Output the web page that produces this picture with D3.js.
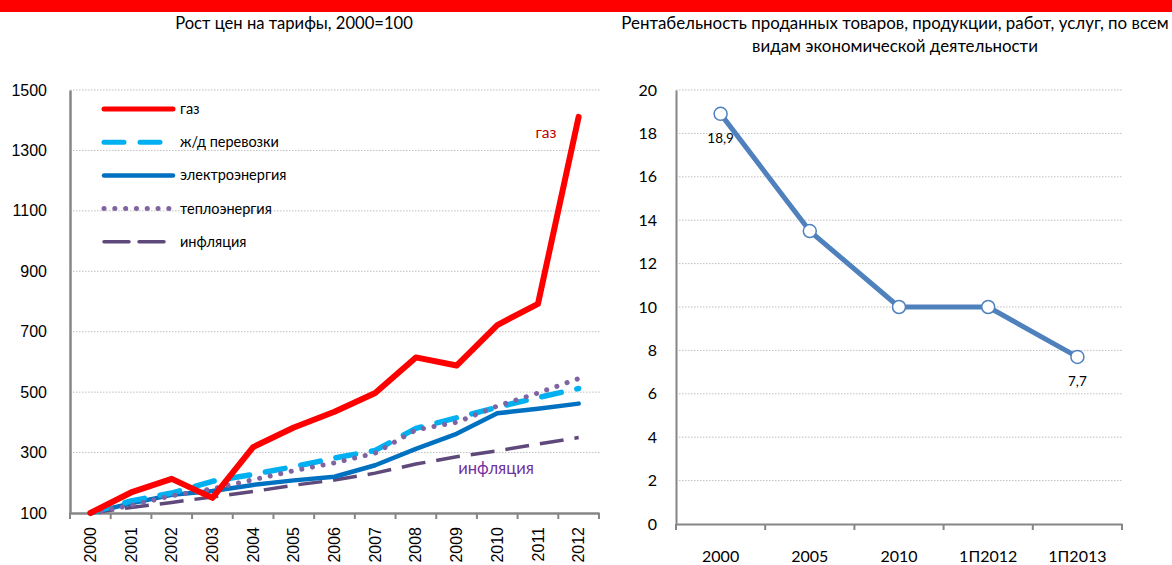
<!DOCTYPE html>
<html><head><meta charset="utf-8">
<script src="https://cdn.jsdelivr.net/npm/d3@7"></script>
<style>
html,body{margin:0;padding:0;background:#fff;}
svg{display:block;}
</style></head>
<body>
<svg id="c" width="1172" height="565"></svg>
<script>
// ---- Data: left chart ----
const years = ["2000","2001","2002","2003","2004","2005","2006","2007","2008","2009","2010","2011","2012"];
const gas      = [100,168,213,150,318,383,435,497,615,588,722,792,1411];
const rail     = [100,140,166,205,228,253,282,307,380,415,450,482,512];
const power    = [100,132,160,173,193,208,220,258,312,362,430,445,462];
const heat     = [100,125,157,180,210,240,266,298,375,400,454,497,545];
const inflation= [100,118,135,153,171,192,209,232,262,286,306,328,350];
const leftTicks = [100,300,500,700,900,1100,1300,1500];
const seriesNames = ["газ","ж/д перевозки","электроэнергия","теплоэнергия","инфляция"];

// ---- Data: right chart ----
const periods = ["2000","2005","2010","1П2012","1П2013"];
const profit  = [18.9,13.5,10.0,10.0,7.7];
const profitLabels = ["18,9","","","","7,7"];
const rightTicks = [0,2,4,6,8,10,12,14,16,18,20];

const svg = d3.select("#c");
const sans = "Lato, 'Noto Sans', sans-serif";
const arial = "'Liberation Sans', Arial, sans-serif";

// red top bar
svg.append("rect").attr("x",0).attr("y",0).attr("width",1172).attr("height",12).attr("fill","#ff0000");

// ================= LEFT CHART =================
const xL = d3.scaleBand().domain(years).range([70,599]).paddingInner(0).paddingOuter(0);
const yL = d3.scaleLinear().domain([100,1500]).range([513,90]);

svg.append("text").attr("x",294).attr("y",29).attr("text-anchor","middle")
  .attr("font-family",sans).attr("font-size",16.6).attr("fill","#000")
  .text("Рост цен на тарифы, 2000=100");

// grid
svg.append("g").selectAll("line").data(leftTicks.filter(d=>d>100)).join("line")
  .attr("x1",70).attr("x2",600).attr("y1",d=>yL(d)).attr("y2",d=>yL(d))
  .attr("stroke","#bfbfbf").attr("stroke-width",1).attr("stroke-dasharray","1.5,1.5");

// y axis
const gyL = svg.append("g").attr("transform","translate(70,0)")
  .call(d3.axisLeft(yL).tickValues(leftTicks).tickFormat(d=>String(d)).tickSize(0).tickPadding(23));
gyL.select(".domain").attr("stroke","#868686").attr("stroke-width",2.5);
gyL.selectAll("text").attr("font-family",arial).attr("font-size",16).attr("fill","#000");

// x axis
const gxL = svg.append("g").attr("transform","translate(0,513)")
  .call(d3.axisBottom(xL).tickSize(0).tickFormat(d=>d));
gxL.select(".domain").attr("stroke","#868686").attr("stroke-width",2.5);
gxL.selectAll(".tick text")
  .attr("font-family",arial).attr("font-size",16).attr("fill","#000")
  .attr("transform","rotate(-90)").attr("text-anchor","end")
  .attr("x",-14).attr("y",0).attr("dy","0.35em");
// tick marks at band boundaries
const edgesL = years.map(d=>xL(d)).concat([xL(years[years.length-1])+xL.bandwidth()]);
svg.append("g").selectAll("line").data(edgesL).join("line")
  .attr("x1",d=>d).attr("x2",d=>d).attr("y1",513).attr("y2",519)
  .attr("stroke","#868686").attr("stroke-width",2);

const cx = d=>xL(d)+xL.bandwidth()/2;
const lineL = d3.line().x((d,i)=>cx(years[i])).y(d=>yL(d));

const styles = [
  {data:inflation, color:"#5f497a", w:3.5, dash:"24,11", cap:"butt"},
  {data:power, color:"#0070c0", w:4.5, dash:null, cap:"round"},
  {data:rail, color:"#00b0f0", w:5.5, dash:"20,16", cap:"round"},
  {data:heat, color:"#8064a2", w:5, dash:"0.1,10.7", cap:"round"},
  {data:gas, color:"#ff0000", w:6, dash:null, cap:"round"}
];
styles.forEach(s=>{
  svg.append("path").datum(s.data).attr("d",lineL)
    .attr("fill","none").attr("stroke",s.color).attr("stroke-width",s.w)
    .attr("stroke-linecap",s.cap).attr("stroke-linejoin","round")
    .attr("stroke-dasharray",s.dash);
});

// legend
const legendStyle = {
  "газ":{color:"#ff0000", w:5, dash:null, cap:"round"},
  "ж/д перевозки":{color:"#00b0f0", w:5, dash:"20,16", cap:"round"},
  "электроэнергия":{color:"#0070c0", w:4.5, dash:null, cap:"round"},
  "теплоэнергия":{color:"#8064a2", w:5, dash:"0.1,10.7", cap:"round"},
  "инфляция":{color:"#5f497a", w:3.5, dash:"25,10", cap:"round"}
};
const lg = svg.append("g");
seriesNames.forEach((n,i)=>{
  const y = 109 + i*33.2;
  const s = legendStyle[n];
  lg.append("line").attr("x1",104).attr("x2",173).attr("y1",y).attr("y2",y)
    .attr("stroke",s.color).attr("stroke-width",s.w).attr("stroke-dasharray",s.dash)
    .attr("stroke-linecap",s.cap);
  lg.append("text").attr("x",180).attr("y",y).attr("dy","0.35em")
    .attr("font-family",sans).attr("font-size",14.5).attr("fill","#000").text(n);
});

// inline labels
svg.append("text").attr("x",546).attr("y",133).attr("dy","0.35em").attr("text-anchor","middle")
  .attr("font-family",sans).attr("font-size",15.5).attr("fill","#c00000").text("газ");
svg.append("text").attr("x",496).attr("y",468).attr("dy","0.35em").attr("text-anchor","middle")
  .attr("font-family",sans).attr("font-size",16.5).attr("fill","#7030a0").text("инфляция");

// ================= RIGHT CHART =================
const xR = d3.scaleBand().domain(periods).range([676,1122]).paddingInner(0).paddingOuter(0);
const yR = d3.scaleLinear().domain([0,20]).range([524,90]);

const tt = svg.append("text").attr("text-anchor","middle")
  .attr("font-family",sans).attr("font-size",16.9).attr("fill","#000");
tt.append("tspan").attr("x",895).attr("y",29).text("Рентабельность проданных товаров, продукции, работ, услуг, по всем");
tt.append("tspan").attr("x",895).attr("y",52).text("видам экономической деятельности");

svg.append("g").selectAll("line").data(rightTicks.filter(d=>d>0)).join("line")
  .attr("x1",676).attr("x2",1122).attr("y1",d=>yR(d)).attr("y2",d=>yR(d))
  .attr("stroke","#bfbfbf").attr("stroke-width",1).attr("stroke-dasharray","1.5,1.5");

const gyR = svg.append("g").attr("transform","translate(676,0)")
  .call(d3.axisLeft(yR).tickValues(rightTicks).tickSize(0).tickPadding(19));
gyR.select(".domain").attr("stroke","#868686").attr("stroke-width",2);
gyR.selectAll("text").attr("font-family",sans).attr("font-size",16).attr("fill","#000");

const gxR = svg.append("g").attr("transform","translate(0,524)")
  .call(d3.axisBottom(xR).tickSize(0).tickPadding(27));
gxR.select(".domain").attr("stroke","#868686").attr("stroke-width",2);
gxR.selectAll("text").attr("font-family",sans).attr("font-size",16).attr("fill","#000");
const edgesR = periods.map(d=>xR(d)).concat([xR(periods[periods.length-1])+xR.bandwidth()]);
svg.append("g").selectAll("line").data(edgesR).join("line")
  .attr("x1",d=>d).attr("x2",d=>d).attr("y1",524).attr("y2",530)
  .attr("stroke","#868686").attr("stroke-width",2);

const cxR = d=>xR(d)+xR.bandwidth()/2;
const lineR = d3.line().x((d,i)=>cxR(periods[i])).y(d=>yR(d));
svg.append("path").datum(profit).attr("d",lineR)
  .attr("fill","none").attr("stroke","#4f81bd").attr("stroke-width",5)
  .attr("stroke-linejoin","round");
svg.append("g").selectAll("circle").data(profit).join("circle")
  .attr("cx",(d,i)=>cxR(periods[i])).attr("cy",d=>yR(d)).attr("r",6.5)
  .attr("fill","#fff").attr("stroke","#4f81bd").attr("stroke-width",1.5);
svg.append("g").selectAll("text").data(profit).join("text")
  .attr("x",(d,i)=>cxR(periods[i])).attr("y",d=>yR(d)+29)
  .attr("text-anchor","middle").attr("font-family",sans).attr("font-size",13.5).attr("fill","#000")
  .text((d,i)=>profitLabels[i]);
</script>
</body></html>
